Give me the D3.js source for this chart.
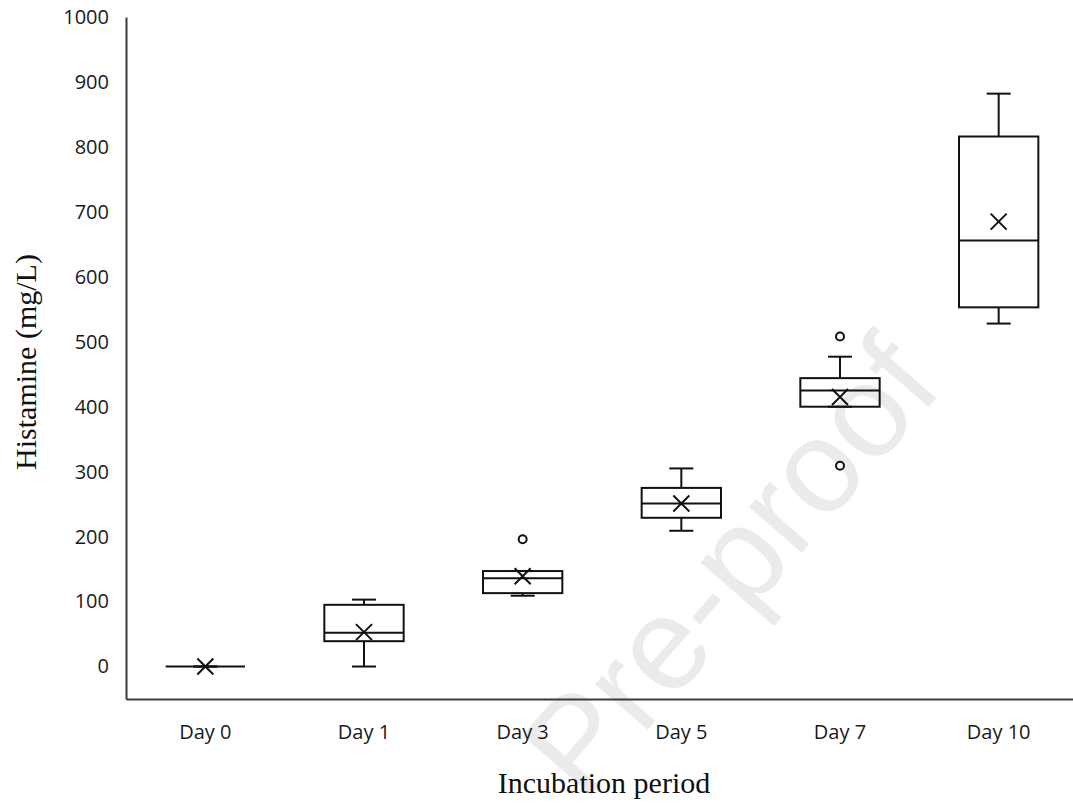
<!DOCTYPE html>
<html>
<head>
<meta charset="utf-8">
<script src="https://cdn.jsdelivr.net/npm/d3@7"></script>
<style>
  html, body { margin: 0; padding: 0; background: #fff; }
  svg { display: block; }
</style>
</head>
<body>
<script>
// ---- data ----
const categories  = ["Day 0", "Day 1", "Day 3", "Day 5", "Day 7", "Day 10"];
const whiskerLow  = [0,   0, 109, 209, 400, 528];
const q1          = [0,  39, 113, 229, 400, 553];
const median      = [0,  52, 136, 251, 425, 656];
const q3          = [0,  95, 147, 275, 444, 816];
const whiskerHigh = [0, 103, 147, 305, 477, 882];
const means       = [0,  53, 139, 251, 415, 685];
const outliers    = [[], [], [196], [], [508, 309], []];
const yTicks      = [0, 100, 200, 300, 400, 500, 600, 700, 800, 900, 1000];
const yTitle = "Histamine (mg/L)";
const xTitle = "Incubation period";
const watermark = "Pre-proof";

const W = 1073, H = 806;
const svg = d3.select("body").append("svg").attr("width", W).attr("height", H);

// watermark (behind everything)
svg.append("text")
  .attr("transform", "translate(945,388) rotate(-49)")
  .attr("text-anchor", "end")
  .attr("font-family", "Liberation Sans, Arial, sans-serif")
  .attr("font-size", 132)
  .attr("fill", "#ebebeb")
  .text(watermark);

const x = d3.scaleBand().domain(categories).range([126, 1078]).padding(0);
const y = d3.scaleLinear().domain([-50, 1000]).range([699, 17]);
const cx = d => x(d) + x.bandwidth() / 2;
const boxW = x.bandwidth() * 0.5;
const capW = 24;

const ink = "#111";
const sw = 2;

// axes
const yAxis = svg.append("g").attr("transform", "translate(126,0)")
  .call(d3.axisLeft(y).tickValues(yTicks).tickFormat(d3.format("d"))
    .tickSize(0).tickSizeOuter(0).tickPadding(17));
const xAxis = svg.append("g").attr("transform", "translate(0,699)")
  .call(d3.axisBottom(x).tickSize(0).tickSizeOuter(0).tickPadding(26));
[yAxis, xAxis].forEach(g => {
  g.select(".domain").attr("stroke", "#3a3a3a").attr("stroke-width", 2);
  g.selectAll("text").attr("font-family", "'Open Sans', Lato, sans-serif")
    .attr("font-size", 20).attr("fill", "#1a1a1a");
});

// boxes
const data = categories.map((c, i) => ({
  c, lo: whiskerLow[i], q1: q1[i], med: median[i], q3: q3[i], hi: whiskerHigh[i],
  mean: means[i], out: outliers[i]
}));

const g = svg.append("g").attr("stroke", ink).attr("stroke-width", sw).attr("fill", "none");

data.forEach(d => {
  const X = cx(d.c);
  const bg = g.append("g");
  // whiskers
  bg.append("line").attr("x1", X).attr("x2", X).attr("y1", y(d.hi)).attr("y2", y(d.q3));
  bg.append("line").attr("x1", X).attr("x2", X).attr("y1", y(d.q1)).attr("y2", y(d.lo));
  bg.append("line").attr("x1", X - capW / 2).attr("x2", X + capW / 2).attr("y1", y(d.hi)).attr("y2", y(d.hi));
  bg.append("line").attr("x1", X - capW / 2).attr("x2", X + capW / 2).attr("y1", y(d.lo)).attr("y2", y(d.lo));
  // box
  bg.append("rect").attr("x", X - boxW / 2).attr("width", boxW)
    .attr("y", y(d.q3)).attr("height", Math.max(0, y(d.q1) - y(d.q3)));
  // median
  bg.append("line").attr("x1", X - boxW / 2).attr("x2", X + boxW / 2)
    .attr("y1", y(d.med)).attr("y2", y(d.med));
  // mean marker (x)
  const m = 8, my = y(d.mean);
  bg.append("path").attr("d", `M${X - m},${my - m}L${X + m},${my + m}M${X - m},${my + m}L${X + m},${my - m}`);
  // outliers
  d.out.forEach(v => {
    bg.append("circle").attr("cx", X).attr("cy", y(v)).attr("r", 4).attr("fill", "#fff");
  });
});

// titles
svg.append("text")
  .attr("transform", "translate(36,362) rotate(-90)")
  .attr("text-anchor", "middle")
  .attr("font-family", "Liberation Serif, 'Times New Roman', serif")
  .attr("font-size", 30).attr("fill", "#111")
  .text(yTitle);
svg.append("text")
  .attr("x", 604).attr("y", 793)
  .attr("text-anchor", "middle")
  .attr("font-family", "Liberation Serif, 'Times New Roman', serif")
  .attr("font-size", 30).attr("fill", "#111")
  .text(xTitle);
</script>
</body>
</html>
